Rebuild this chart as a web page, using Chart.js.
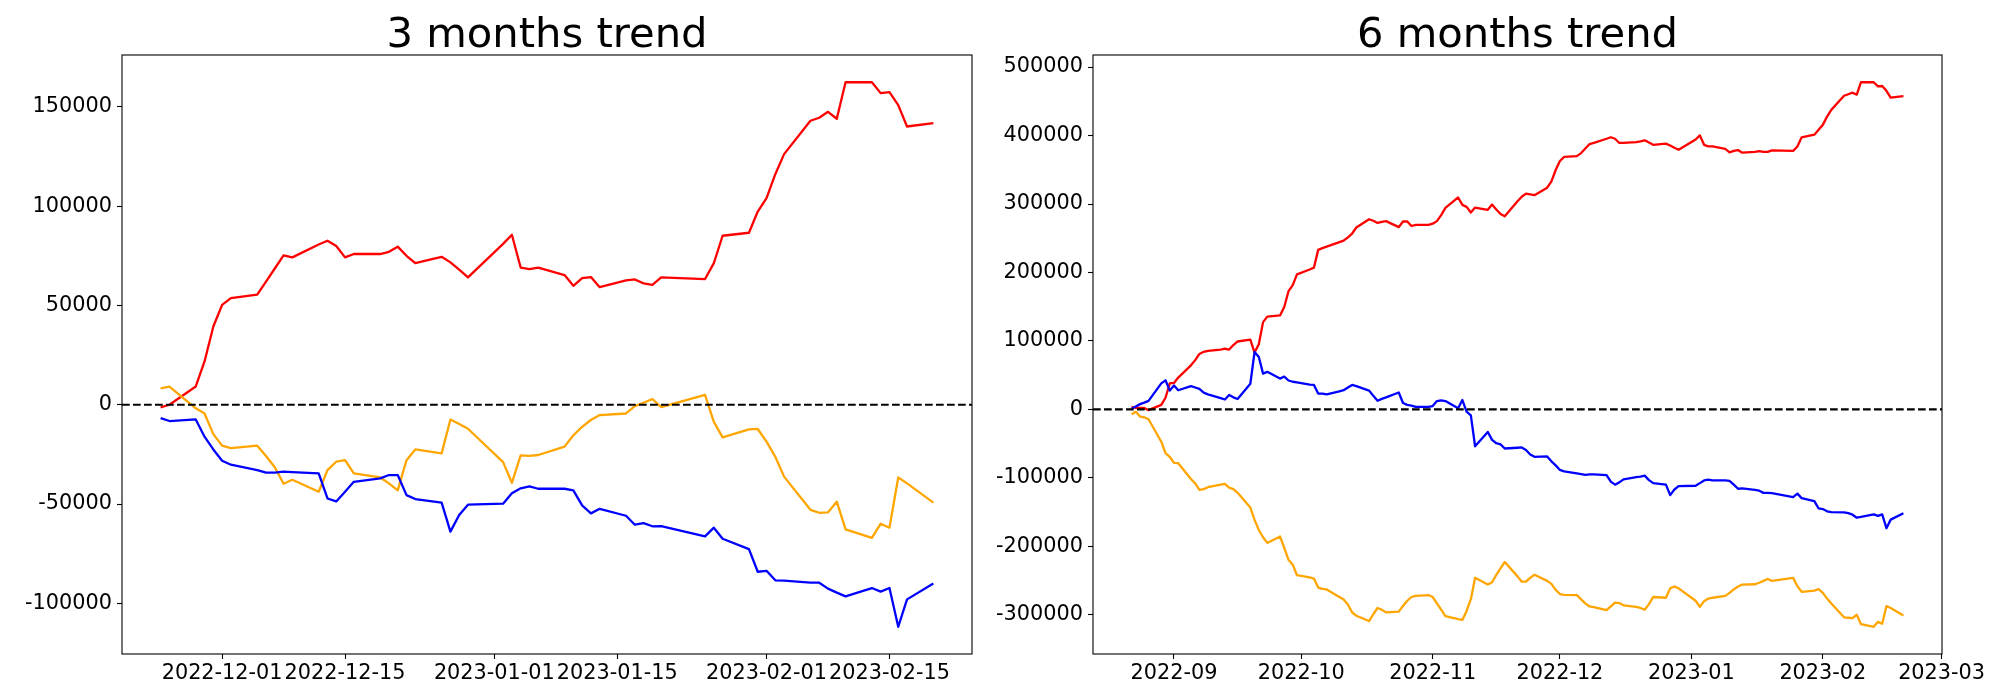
<!DOCTYPE html>
<html>
<head>
<meta charset="utf-8">
<script src="https://cdn.jsdelivr.net/npm/chart.js@4.4.0/dist/chart.umd.min.js"></script>
<style>
  html, body { margin: 0; padding: 0; background: #fff; }
  #wrap { position: relative; width: 2000px; height: 700px; }
  canvas { position: absolute; top: 0; }
  #chart3 { left: 0; }
  #chart6 { left: 980px; }
</style>
</head>
<body>
<div id="wrap">
  <canvas id="chart3" width="980" height="700"></canvas>
  <canvas id="chart6" width="1020" height="700"></canvas>
</div>
<script>
// ---- 3 months trend ----
const threeDates = [
    '2022-11-24', '2022-11-25',
    '2022-11-28', '2022-11-29', '2022-11-30', '2022-12-01', '2022-12-02',
    '2022-12-05', '2022-12-06', '2022-12-07', '2022-12-08', '2022-12-09',
    '2022-12-12', '2022-12-13', '2022-12-14', '2022-12-15', '2022-12-16',
    '2022-12-19', '2022-12-20', '2022-12-21', '2022-12-22', '2022-12-23',
    '2022-12-26', '2022-12-27', '2022-12-28', '2022-12-29',
    '2023-01-02', '2023-01-03', '2023-01-04', '2023-01-05', '2023-01-06',
    '2023-01-09', '2023-01-10', '2023-01-11', '2023-01-12', '2023-01-13',
    '2023-01-16', '2023-01-17', '2023-01-18', '2023-01-19', '2023-01-20',
    '2023-01-25', '2023-01-26', '2023-01-27',
    '2023-01-30', '2023-01-31', '2023-02-01', '2023-02-02', '2023-02-03',
    '2023-02-06', '2023-02-07', '2023-02-08', '2023-02-09', '2023-02-10',
    '2023-02-13', '2023-02-14', '2023-02-15', '2023-02-16', '2023-02-17',
    '2023-02-20'
];
const threeRed = [
    -1300, 0,
    9200, 21800, 39400, 50300, 53700,
    55400, 62000, 68600, 75200, 74200,
    80700, 82600, 79900, 74200, 75900,
    75900, 77000, 79600, 75000, 71300,
    74500, 71700, 68000, 64100,
    81000, 85600, 69100, 68300, 69000,
    65300, 59900, 63800, 64300, 59200,
    62600, 63100, 61100, 60400, 64100,
    63300, 71300, 85100,
    86600, 97300, 104000, 116100, 126200,
    143000, 144500, 147500, 144000, 162400,
    162400, 156900, 157400, 150900, 140100,
    141800
];
const threeOrange = [
    8200, 9100,
    -1800, -4400, -14800, -20600, -21800,
    -20600, -25800, -31500, -39800, -37800,
    -43800, -32900, -28700, -27900, -34600,
    -36600, -39600, -43100, -27900, -22500,
    -24500, -7400, -9700, -12100,
    -28900, -39300, -25500, -25700, -25300,
    -21100, -15400, -11100, -7700, -5200,
    -4400, -700, 1000, 2900, -1200,
    5000, -8600, -16400,
    -12400, -12200, -18600, -26200, -36200,
    -52900, -54400, -54200, -48800, -62800,
    -67000, -59900, -61900, -36600, -39600,
    -49300
];
const threeBlue = [
    -6700, -8200,
    -7400, -16100, -22500, -28200, -30200,
    -32900, -34200, -34200, -33700, -33900,
    -34600, -47200, -48700, -43800, -38800,
    -37100, -35400, -35400, -45500, -47500,
    -49300, -63900, -55500, -50300,
    -49800, -44600, -42100, -41100, -42300,
    -42300, -43100, -50700, -54700, -52400,
    -55900, -60400, -59600, -61200, -61100,
    -66300, -61900, -67500,
    -72700, -84100, -83600, -88400, -88600,
    -89600, -89600, -92600, -94600, -96500,
    -92300, -94100, -92300, -111800, -98000,
    -90000
];
const threeTicks = ['2022-12-01', '2022-12-15', '2023-01-01', '2023-01-15', '2023-02-01', '2023-02-15'];
const threeYTicks = [-100000, -50000, 0, 50000, 100000, 150000];

// ---- 6 months trend ----
const sixDates = [
    '2022-08-22', '2022-08-23', '2022-08-24', '2022-08-25', '2022-08-26',
    '2022-08-29', '2022-08-30', '2022-08-31', '2022-09-01', '2022-09-02',
    '2022-09-05', '2022-09-06', '2022-09-07', '2022-09-08', '2022-09-09',
    '2022-09-12', '2022-09-13', '2022-09-14', '2022-09-15', '2022-09-16',
    '2022-09-19', '2022-09-20', '2022-09-21', '2022-09-22', '2022-09-23',
    '2022-09-26', '2022-09-27', '2022-09-28', '2022-09-29', '2022-09-30',
    '2022-10-03', '2022-10-04', '2022-10-05', '2022-10-06', '2022-10-07',
    '2022-10-10', '2022-10-11', '2022-10-12', '2022-10-13', '2022-10-14',
    '2022-10-17', '2022-10-18', '2022-10-19', '2022-10-20', '2022-10-21',
    '2022-10-24', '2022-10-25', '2022-10-26', '2022-10-27', '2022-10-28',
    '2022-10-31', '2022-11-01', '2022-11-02', '2022-11-03', '2022-11-04',
    '2022-11-07', '2022-11-08', '2022-11-09', '2022-11-10', '2022-11-11',
    '2022-11-14', '2022-11-15', '2022-11-16', '2022-11-17', '2022-11-18',
    '2022-11-21', '2022-11-22', '2022-11-23', '2022-11-24', '2022-11-25',
    '2022-11-28', '2022-11-29', '2022-11-30', '2022-12-01', '2022-12-02',
    '2022-12-05', '2022-12-06', '2022-12-07', '2022-12-08', '2022-12-09',
    '2022-12-12', '2022-12-13', '2022-12-14', '2022-12-15', '2022-12-16',
    '2022-12-19', '2022-12-20', '2022-12-21', '2022-12-22', '2022-12-23',
    '2022-12-26', '2022-12-27', '2022-12-28', '2022-12-29',
    '2023-01-02', '2023-01-03', '2023-01-04', '2023-01-05', '2023-01-06',
    '2023-01-09', '2023-01-10', '2023-01-11', '2023-01-12', '2023-01-13',
    '2023-01-16', '2023-01-17', '2023-01-18', '2023-01-19', '2023-01-20',
    '2023-01-25', '2023-01-26', '2023-01-27',
    '2023-01-30', '2023-01-31', '2023-02-01', '2023-02-02', '2023-02-03',
    '2023-02-06', '2023-02-07', '2023-02-08', '2023-02-09', '2023-02-10',
    '2023-02-13', '2023-02-14', '2023-02-15', '2023-02-16', '2023-02-17',
    '2023-02-20'
];
const sixRed = [
    3800, 2200, 2200, 2200, -1100,
    6600, 17000, 37900, 38700, 46500,
    64400, 72000, 81000, 84200, 85600,
    87300, 88600, 87400, 94000, 99200,
    101800, 83000, 95200, 127500, 135500,
    137200, 149500, 172700, 181500, 197200,
    204300, 207100, 233000, 235500, 237700,
    244300, 246500, 251400, 256900, 265700,
    277800, 275600, 272300, 273900, 275000,
    266300, 274500, 274500, 267900, 269600,
    269600, 271200, 275000, 283800, 294300,
    309600, 298700, 295900, 287700, 294800,
    291500, 299200, 292100, 285500, 282200,
    304100, 310700, 315100, 314000, 312900,
    323900, 333200, 349700, 362900, 368900,
    370000, 374400, 381000, 387600, 389200,
    395300, 397500, 395300, 389200, 389200,
    390300, 391400, 393000, 389800, 386500,
    388200, 385400, 382100, 379300,
    394200, 400200, 386500, 384300, 384300,
    380500, 375500, 377700, 378800, 375000,
    376100, 377200, 376100, 376100, 378300,
    377700, 384000, 397500,
    401300, 408500, 415600, 427700, 437500,
    458100, 460300, 462600, 459800, 477900,
    477900, 471800, 472400, 465300, 455400,
    457600
];
const sixOrange = [
    -7100, -3300, -10400, -11500, -14300,
    -47200, -63700, -69200, -78000, -78600,
    -101600, -108200, -117500, -116400, -113700,
    -109900, -108800, -114200, -116400, -121900,
    -143300, -161400, -176200, -186700, -195000,
    -185700, -202100, -219700, -226800, -242200,
    -245500, -247100, -260300, -262000, -263000,
    -274000, -277800, -285000, -296500, -301400,
    -309100, -299200, -290000, -292600, -296500,
    -295400, -287200, -279500, -274000, -272300,
    -271200, -274000, -283300, -292600, -302000,
    -306400, -307500, -294300, -277200, -245900,
    -255800, -252500, -241600, -232200, -222900,
    -243900, -251600, -251600, -246000, -241600,
    -250500, -254900, -263700, -269700, -270800,
    -271300, -277400, -283400, -287800, -288900,
    -293300, -287800, -282300, -282900, -286100,
    -288400, -290000, -292700, -284500, -274000,
    -275100, -261400, -258700, -261400,
    -279500, -288400, -280100, -276300, -275100,
    -272400, -268000, -263000, -258700, -255900,
    -255400, -253200, -250500, -247700, -250500,
    -246100, -258200, -266400,
    -264800, -262600, -268000, -276300, -283400,
    -303700, -304300, -304900, -299900, -313700,
    -317500, -310300, -313100, -287300, -290000,
    -301000
];
const sixBlue = [
    1100, 4400, 7700, 9900, 12500,
    38000, 42500, 27500, 35000, 28000,
    34000, 32000, 30000, 24500, 22000,
    16500, 14500, 21000, 17600, 15200,
    37500, 84000, 76500, 52300, 54900,
    45000, 48000, 42200, 40400, 39500,
    36200, 35800, 23200, 23100, 22000,
    26400, 28000, 31900, 35700, 34100,
    27500, 19800, 12600, 15400, 17600,
    24700, 9300, 6600, 5500, 3800,
    3800, 4900, 12100, 13200, 12100,
    1600, 13700, -3300, -8800, -53800,
    -32900, -44500, -49400, -51100, -57100,
    -56000, -55500, -59300, -65900, -69200,
    -68700, -75800, -81800, -88400, -90600,
    -93400, -94500, -95600, -95000, -95000,
    -96100, -105500, -109900, -106600, -102200,
    -98900, -98300, -96700, -103300, -107700,
    -109900, -125200, -117000, -112100,
    -111500, -107700, -103800, -102500, -103800,
    -103800, -104400, -109900, -115900, -115400,
    -117500, -118700, -121900, -121900, -122400,
    -128000, -123000, -129600,
    -134000, -144500, -145600, -148800, -150000,
    -150500, -151600, -153800, -158200, -157100,
    -153300, -155500, -153300, -173600, -161000,
    -151600
];
const sixTicks = ['2022-09', '2022-10', '2022-11', '2022-12', '2023-01', '2023-02', '2023-03'];
const sixYTicks = [-300000, -200000, -100000, 0, 100000, 200000, 300000, 400000, 500000];

const DAY = 86400000;
function toDay(s) {
    const p = s.split('-').map(Number);
    return Date.UTC(p[0], p[1] - 1, p[2] || 1) / DAY;
}

// matplotlib style 5% margins
function padRange(lo, hi) {
    const m = (hi - lo) * 0.05;
    return [lo - m, hi + m];
}

Chart.defaults.font.family = 'DejaVu Sans';
Chart.defaults.font.size = 20.8;
Chart.defaults.color = '#000';

const framePlugin = {
    id: 'frame',
    afterDatasetsDraw(chart) {
        const { ctx, chartArea: a, scales } = chart;
        ctx.save();
        // dashed zero line
        const y0 = scales.y.getPixelForValue(0);
        ctx.strokeStyle = '#000';
        ctx.lineWidth = 2.08;
        ctx.setLineDash([7.7, 3.3]);
        ctx.beginPath();
        ctx.moveTo(a.left, y0);
        ctx.lineTo(a.right, y0);
        ctx.stroke();
        // axes box
        ctx.setLineDash([]);
        ctx.lineWidth = 1.1;
        ctx.strokeRect(a.left, a.top, a.right - a.left, a.bottom - a.top);
        ctx.restore();
    },
    afterDraw(chart) {
        const { ctx, chartArea: a } = chart;
        ctx.save();
        ctx.font = '41.7px "DejaVu Sans"';
        ctx.fillStyle = '#000';
        ctx.textAlign = 'center';
        ctx.textBaseline = 'alphabetic';
        ctx.fillText(chart.options.plugins.frame.title, (a.left + a.right) / 2, 47);
        ctx.restore();
    }
};

function makeChart(id, title, dates, red, orange, blue, ticks, tickLabel, yTicks, yWidth, padRight) {
    const xs = dates.map(toDay);
    const all = red.concat(orange, blue);
    const [xMin, xMax] = padRange(Math.min(...xs), Math.max(...xs));
    const [yMin, yMax] = padRange(Math.min(...all), Math.max(...all));
    const series = vals => vals.map((v, i) => ({ x: xs[i], y: v }));
    const line = (vals, color) => ({
        data: series(vals),
        borderColor: color,
        borderWidth: 2.3,
        pointRadius: 0,
        tension: 0,
        fill: false,
        borderJoinStyle: 'round'
    });

    new Chart(document.getElementById(id), {
        type: 'line',
        data: {
            datasets: [line(blue, '#0000ff'), line(orange, '#ffa500'), line(red, '#ff0000')]
        },
        options: {
            responsive: false,
            animation: false,
            layout: { padding: { top: 55, right: padRight, bottom: 0, left: 0 } },
            plugins: {
                legend: { display: false },
                tooltip: { enabled: false },
                frame: { title: title }
            },
            scales: {
                x: {
                    type: 'linear',
                    min: xMin,
                    max: xMax,
                    border: { display: false },
                    grid: { drawOnChartArea: false, drawTicks: true, tickLength: 5, tickColor: '#000', tickWidth: 1.1 },
                    ticks: {
                        padding: 2,
                        autoSkip: false,
                        maxRotation: 0,
                        minRotation: 0,
                        callback: (v, i) => tickLabel(ticks[i])
                    },
                    afterBuildTicks: axis => { axis.ticks = ticks.map(t => ({ value: toDay(t) })); },
                    afterFit: scale => { scale.height = 46; }
                },
                y: {
                    min: yMin,
                    max: yMax,
                    border: { display: false },
                    grid: { drawOnChartArea: false, drawTicks: true, tickLength: 5, tickColor: '#000', tickWidth: 1.1 },
                    ticks: {
                        padding: 5,
                        callback: v => String(v)
                    },
                    afterBuildTicks: axis => { axis.ticks = yTicks.map(v => ({ value: v })); },
                    afterFit: scale => { scale.width = yWidth; }
                }
            }
        },
        plugins: [framePlugin]
    });
}

makeChart('chart3', '3 months trend', threeDates, threeRed, threeOrange, threeBlue,
    threeTicks, t => t, threeYTicks, 122, 8);
makeChart('chart6', '6 months trend', sixDates, sixRed, sixOrange, sixBlue,
    sixTicks, t => t, sixYTicks, 113, 58);
</script>
</body>
</html>
